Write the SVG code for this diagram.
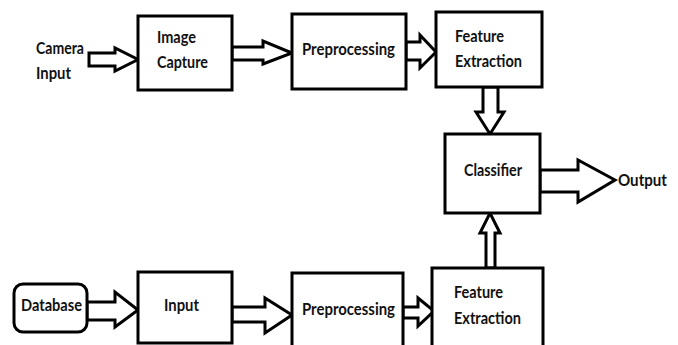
<svg xmlns="http://www.w3.org/2000/svg" width="678" height="345" viewBox="0 0 678 345">
  <style>
    .box { fill: #ffffff; stroke: #000000; stroke-width: 3; }
    .arrow { fill: #ffffff; stroke: #000000; stroke-width: 3; stroke-linejoin: miter; }
    .lbl { font-family: Lato, "Open Sans", "Liberation Sans", sans-serif; font-weight: bold; font-size: 17px; fill: #111111; }
  </style>
  <rect width="678" height="345" fill="#ffffff"/>

  <!-- Connectors: hollow block arrows -->
  <g id="connectors">
    <polygon class="arrow" points="89,53 115,53 115,48 138,59.5 115,71 115,66 89,66"/>
    <polygon class="arrow" points="232,47 263,47 263,41 292,53 263,64 263,60 232,60"/>
    <polygon class="arrow" points="406,42 420,42 420,35 436,52 420,68 420,60 406,60"/>
    <polygon class="arrow" points="483,87 483,112 476,112 490,134 504,112 498,112 498,87"/>
    <polygon class="arrow" points="540,170 578,170 578,160 615,180 578,202 578,192 540,192"/>
    <polygon class="arrow" points="486,268 486,233 480,233 490,213 500,233 495,233 495,268"/>
    <polygon class="arrow" points="87,302 115,302 115,292 138,310 115,327 115,320 87,320"/>
    <polygon class="arrow" points="232,307 265,307 265,298 292,315 265,333 265,322 232,322"/>
    <polygon class="arrow" points="403,307 418,307 418,298 434,311 418,326 418,318 403,318"/>
  </g>

  <!-- Source labels -->
  <g id="camera-input">
    <text class="lbl" x="36" y="54" textLength="48" lengthAdjust="spacingAndGlyphs">Camera</text>
    <text class="lbl" x="36" y="79" textLength="35" lengthAdjust="spacingAndGlyphs">Input</text>
  </g>

  <g id="image-capture">
    <rect class="box" x="138" y="16" width="94" height="74"/>
    <text class="lbl" x="157" y="43" textLength="39" lengthAdjust="spacingAndGlyphs">Image</text>
    <text class="lbl" x="157" y="68" textLength="51" lengthAdjust="spacingAndGlyphs">Capture</text>
  </g>

  <g id="preprocessing-top">
    <rect class="box" x="292" y="14" width="114" height="75"/>
    <text class="lbl" x="302" y="55" textLength="93" lengthAdjust="spacingAndGlyphs">Preprocessing</text>
  </g>

  <g id="feature-extraction-top">
    <rect class="box" x="436" y="12" width="106" height="75"/>
    <text class="lbl" x="455" y="42" textLength="49" lengthAdjust="spacingAndGlyphs">Feature</text>
    <text class="lbl" x="455" y="67" textLength="67" lengthAdjust="spacingAndGlyphs">Extraction</text>
  </g>

  <g id="classifier">
    <rect class="box" x="445" y="134" width="95" height="79"/>
    <text class="lbl" x="464" y="176" textLength="58" lengthAdjust="spacingAndGlyphs">Classifier</text>
  </g>

  <g id="output">
    <text class="lbl" x="618" y="186" textLength="49" lengthAdjust="spacingAndGlyphs">Output</text>
  </g>

  <g id="database">
    <rect class="box" x="14" y="284" width="73" height="48" rx="9" ry="9"/>
    <text class="lbl" x="21" y="311" textLength="61" lengthAdjust="spacingAndGlyphs">Database</text>
  </g>

  <g id="input">
    <rect class="box" x="138" y="272" width="94" height="71"/>
    <text class="lbl" x="164" y="311" textLength="35" lengthAdjust="spacingAndGlyphs">Input</text>
  </g>

  <g id="preprocessing-bottom">
    <rect class="box" x="292" y="273" width="111" height="80"/>
    <text class="lbl" x="302" y="315" textLength="93" lengthAdjust="spacingAndGlyphs">Preprocessing</text>
  </g>

  <g id="feature-extraction-bottom">
    <rect class="box" x="432" y="268" width="111" height="85"/>
    <text class="lbl" x="454" y="298" textLength="49" lengthAdjust="spacingAndGlyphs">Feature</text>
    <text class="lbl" x="454" y="324" textLength="67" lengthAdjust="spacingAndGlyphs">Extraction</text>
  </g>
</svg>
